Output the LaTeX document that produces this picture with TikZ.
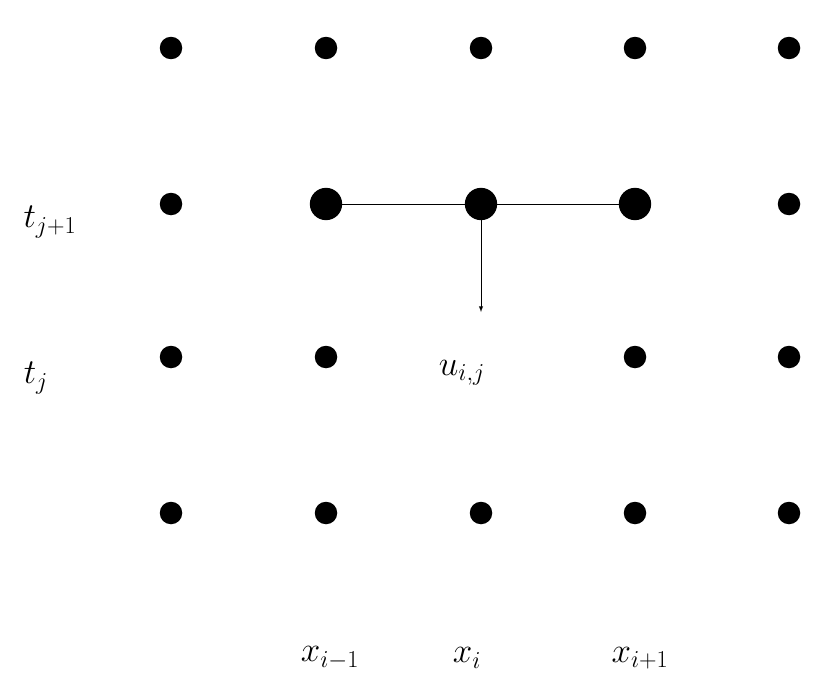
\documentclass[tikz,border=0pt]{standalone}
\tikzset{
  dot/.style={circle,fill=black,inner sep=0pt,minimum size=16pt},
  bigdot/.style={circle,fill=black,inner sep=0pt,minimum size=23pt},
  lab/.style={font=\fontsize{26}{30}\selectfont}
}
\begin{document}
\begin{tikzpicture}[x=0.025cm,y=-0.025cm]
\useasboundingbox (0,0) rectangle (838,697);
\foreach \c [count=\i] in {171,326,481,635,789}{
  \foreach \r [count=\j] in {48,204,357,513}{
    \ifnum\j=2
      \ifnum\i>1 \ifnum\i<5 \else \node[dot] (d\i\j) at (\c,\r) {};\fi
      \else \node[dot] (d\i\j) at (\c,\r) {};\fi
    \else
      \ifnum\j=3 \ifnum\i=3 \else \node[dot] (d\i\j) at (\c,\r) {};\fi
      \else \node[dot] (d\i\j) at (\c,\r) {};\fi
    \fi
  }
}
\node[bigdot] (b2) at (326,204) {};
\node[bigdot] (b3) at (481,204) {};
\node[bigdot] (b4) at (635,204) {};
\draw (b2) -- (b3) -- (b4);
\coordinate (arrend) at (481,312);
\draw[-latex] (b3.center) -- (arrend);
\node[lab] (u) at (462,373) {$u_{i,j}$};
\node[lab] (tj1) at (50,222) {$t_{j+1}$};
\node[lab] (tj) at (36,378) {$t_j$};
\node[lab] (xm) at (330,658) {$x_{i-1}$};
\node[lab] (xi) at (467,658) {$x_i$};
\node[lab] (xp) at (640,658) {$x_{i+1}$};
\end{tikzpicture}
\end{document}
